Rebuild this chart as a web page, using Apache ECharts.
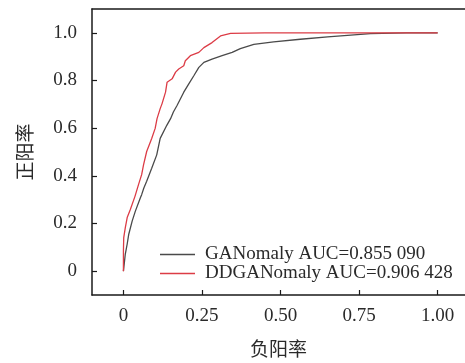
<!DOCTYPE html>
<html>
<head>
<meta charset="utf-8">
<script src="https://cdn.jsdelivr.net/npm/echarts@6/dist/echarts.min.js"></script>
<style>
html,body{margin:0;padding:0;background:#fff;}
#chart{width:465px;height:363px;}
</style>
</head>
<body>
<div id="chart"></div>
<script>
var seriesNames = ['GANomaly AUC=0.855 090', 'DDGANomaly AUC=0.906 428'];
var xTicks = [0, 0.25, 0.5, 0.75, 1.0];
var yTicks = [0, 0.2, 0.4, 0.6, 0.8, 1.0];
var xName = '负阳率';
var yName = '正阳率';

var fprGAN = [0, 0.006, 0.012, 0.017, 0.028, 0.038, 0.054, 0.058, 0.065, 0.074, 0.090, 0.106, 0.117, 0.138, 0.150, 0.159, 0.171, 0.192, 0.208, 0.224, 0.240, 0.256, 0.282, 0.314, 0.346, 0.372, 0.415, 0.478, 0.563, 0.650, 0.786, 0.900, 1.0];
var tprGAN = [0, 0.072, 0.114, 0.155, 0.211, 0.252, 0.308, 0.321, 0.349, 0.377, 0.432, 0.488, 0.557, 0.612, 0.640, 0.668, 0.696, 0.751, 0.786, 0.820, 0.855, 0.876, 0.890, 0.904, 0.918, 0.934, 0.952, 0.962, 0.973, 0.983, 0.997, 1.0, 1.0];

var fprDD = [0, 0, 0.001, 0.006, 0.012, 0.022, 0.037, 0.048, 0.058, 0.064, 0.074, 0.090, 0.101, 0.107, 0.117, 0.123, 0.134, 0.139, 0.155, 0.166, 0.176, 0.192, 0.197, 0.213, 0.240, 0.256, 0.282, 0.309, 0.341, 0.450, 0.600, 0.800, 1.0];
var tprDD = [0, 0.086, 0.141, 0.183, 0.225, 0.259, 0.315, 0.363, 0.405, 0.446, 0.502, 0.557, 0.599, 0.640, 0.682, 0.703, 0.751, 0.793, 0.807, 0.835, 0.848, 0.862, 0.883, 0.904, 0.918, 0.938, 0.959, 0.987, 0.998, 1.0, 1.0, 1.0, 1.0];

function pairs(xs, ys) { return xs.map(function (x, i) { return [x, ys[i]]; }); }

var chart = echarts.init(document.getElementById('chart'));
var serif = '"Liberation Serif", "DejaVu Serif", serif';
var cjk = '"Noto Sans CJK SC", sans-serif';
var axisColor = '#1a1a1a';
var textColor = '#2a2a2a';

chart.setOption({
  animation: false,
  backgroundColor: '#fff',
  grid: { left: 92, top: 9, right: 0, bottom: 65 },
  legend: {
    orient: 'vertical',
    left: 155, top: 240,
    icon: 'rect',
    itemWidth: 35, itemHeight: 1.3, itemGap: 0,
    textStyle: { fontFamily: serif, fontSize: 19, color: textColor, lineHeight: 19, padding: [0, 0, 0, 5] },
    data: seriesNames
  },
  xAxis: [{
    type: 'value', min: -0.1, max: 1.087, position: 'bottom',
    name: xName, nameLocation: 'middle', nameGap: 44,
    nameTextStyle: { fontFamily: cjk, fontSize: 19, color: textColor },
    axisLine: { show: true, onZero: false, lineStyle: { color: axisColor, width: 1.5 } },
    axisTick: { show: true, inside: true, length: 5, customValues: xTicks, lineStyle: { color: axisColor, width: 1.2 } },
    axisLabel: {
      customValues: xTicks, margin: 12, fontFamily: serif, fontSize: 19, color: textColor,
      formatter: function (v) { return v === 0 ? '0' : v.toFixed(2); }
    },
    splitLine: { show: false }
  }, {
    type: 'value', min: -0.1, max: 1.087, position: 'top',
    axisLine: { show: true, onZero: false, lineStyle: { color: axisColor, width: 1.5 } },
    axisTick: { show: false }, axisLabel: { show: false }, splitLine: { show: false }
  }],
  yAxis: {
    type: 'value', min: -0.1, max: 1.1,
    name: yName, nameLocation: 'middle', nameGap: 58, nameRotate: 90,
    nameTextStyle: { fontFamily: cjk, fontSize: 19, color: textColor },
    axisLine: { show: true, onZero: false, lineStyle: { color: axisColor, width: 1.5 } },
    axisTick: { show: true, inside: true, length: 5, customValues: yTicks, lineStyle: { color: axisColor, width: 1.2 } },
    axisLabel: {
      customValues: yTicks, margin: 15, fontFamily: serif, fontSize: 19, color: textColor,
      formatter: function (v) { return v === 0 ? '0' : v.toFixed(1); }
    },
    splitLine: { show: false }
  },
  series: [{
    name: seriesNames[0], type: 'line', symbol: 'none', xAxisIndex: 0,
    lineStyle: { color: '#4a4a4a', width: 1.3 }, itemStyle: { color: '#4a4a4a' },
    data: pairs(fprGAN, tprGAN), z: 2
  }, {
    name: seriesNames[1], type: 'line', symbol: 'none', xAxisIndex: 0,
    lineStyle: { color: '#dc3c46', width: 1.3 }, itemStyle: { color: '#dc3c46' },
    data: pairs(fprDD, tprDD), z: 3
  }]
});
</script>
</body>
</html>
